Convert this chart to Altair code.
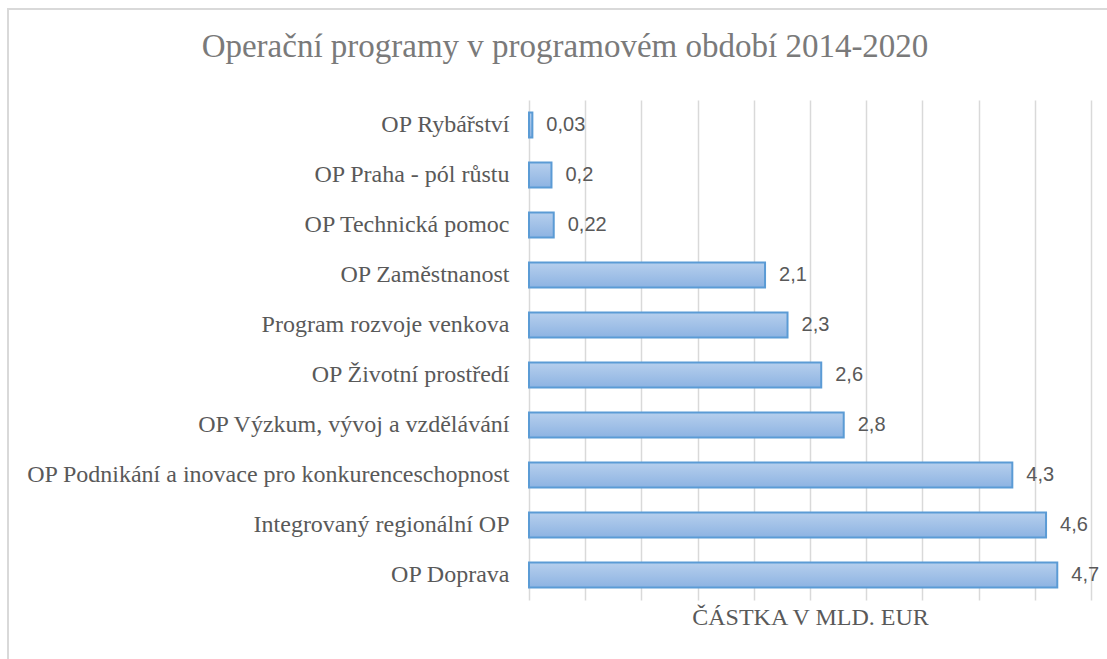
import altair as alt
import pandas as pd

programs = [
    "OP Rybářství",
    "OP Praha - pól růstu",
    "OP Technická pomoc",
    "OP Zaměstnanost",
    "Program rozvoje venkova",
    "OP Životní prostředí",
    "OP Výzkum, vývoj a vzdělávání",
    "OP Podnikání a inovace pro konkurenceschopnost",
    "Integrovaný regionální OP",
    "OP Doprava",
]
amounts = [0.03, 0.2, 0.22, 2.1, 2.3, 2.6, 2.8, 4.3, 4.6, 4.7]
tick_values = [0, 0.5, 1, 1.5, 2, 2.5, 3, 3.5, 4, 4.5, 5]

df = pd.DataFrame({"program": programs, "amount": amounts})
df["label"] = df["amount"].map(lambda v: f"{v:g}".replace(".", ","))

gradient = alt.Gradient(
    gradient="linear",
    stops=[alt.GradientStop(color="#b6cfed", offset=0),
           alt.GradientStop(color="#8db3e2", offset=1)],
    x1=0, x2=0, y1=0, y2=1,
)

x_enc = alt.X(
    "amount:Q",
    scale=alt.Scale(domain=[0, 5], nice=False),
    axis=alt.Axis(
        values=tick_values, labels=False, ticks=False, domain=False,
        grid=True, gridColor="#d9d9d9", gridWidth=1.5,
        title="ČÁSTKA V MLD. EUR", titleFont="Liberation Serif",
        titleFontSize=24, titleFontWeight="normal", titleColor="#595959",
        titlePadding=5,
    ),
)
y_enc = alt.Y(
    "program:N",
    sort=programs,
    scale=alt.Scale(paddingInner=0.5, paddingOuter=0.25),
    axis=alt.Axis(
        title=None, ticks=False, domain=False, labelFont="Liberation Serif",
        labelFontSize=24, labelColor="#595959", labelPadding=20,
        labelLimit=600,
    ),
)

base = alt.Chart(df)
bars = base.mark_bar(color=gradient, stroke="#5b9bd5", strokeWidth=2).encode(
    x=x_enc, y=y_enc
)
text = base.mark_text(
    align="left", baseline="middle", dx=14, font="Liberation Sans",
    fontSize=20, color="#595959",
).encode(x="amount:Q", y=alt.Y("program:N", sort=programs), text="label:N")

border = alt.Chart(pd.DataFrame({"k": [0]})).mark_rect(
    fill=None, stroke="#d9d9d9", strokeWidth=2, clip=False
).encode(
    x=alt.value(-521), x2=alt.value(600), y=alt.value(-91), y2=alt.value(580)
)

chart = alt.layer(border, bars, text).properties(
    width=562,
    height=500,
    autosize=alt.AutoSizeParams(type="none"),
    padding={"left": 529, "top": 100, "right": 16, "bottom": 59},
    title=alt.TitleParams(
        "Operační programy v programovém období 2014-2020",
        font="Liberation Serif", fontSize=33, fontWeight="normal",
        color="#7a7a7a", anchor="middle", dx=-245, offset=0, dy=56,
    ),
).configure_view(stroke=None)

chart.save("out.html", embed_options={"renderer": "svg", "actions": False})
